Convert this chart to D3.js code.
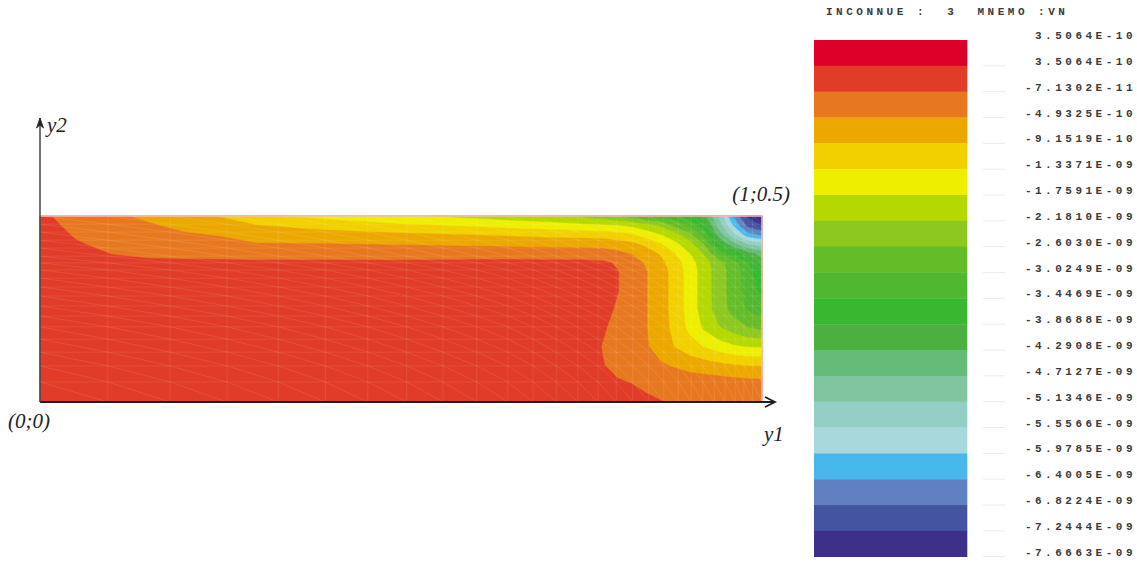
<!DOCTYPE html>
<html lang="fr">
<head>
<meta charset="UTF-8">
<title>INCONNUE 3 - VN</title>
<script src="https://cdnjs.cloudflare.com/ajax/libs/d3/7.8.5/d3.min.js"></script>
<style>
  body { margin: 0; background: #fff; }
  svg { display: block; }
  .leg { font-family: "Liberation Mono", monospace; font-size: 11px; font-weight: bold; letter-spacing: 3.5px; fill: #3a3a3a; white-space: pre; }
  .ax { font-family: "Liberation Serif", serif; font-style: italic; font-size: 21px; fill: #222; }
</style>
</head>
<body>
<svg id="chart" width="1137" height="562"></svg>
<script>
// legend: 21 level labels (top to bottom) and the 20 colour bands between them
var levelLabels = ["3.5064E-10", "3.5064E-10", "-7.1302E-11", "-4.9325E-10", "-9.1519E-10",
  "-1.3371E-09", "-1.7591E-09", "-2.1810E-09", "-2.6030E-09", "-3.0249E-09", "-3.4469E-09",
  "-3.8688E-09", "-4.2908E-09", "-4.7127E-09", "-5.1346E-09", "-5.5566E-09", "-5.9785E-09",
  "-6.4005E-09", "-6.8224E-09", "-7.2444E-09", "-7.6663E-09"];
var bandColors = ["#dc0028", "#e03c28", "#e87820", "#eca800", "#f2d000", "#eeee00", "#b4d800",
  "#8cc820", "#64bc28", "#50b830", "#38b830", "#4cb040", "#64bc78", "#80c4a0", "#94cec4",
  "#a8d8dc", "#48b8ec", "#6080c0", "#4454a0", "#3c3088"];
var header = "INCONNUE :  3  MNEMO :VN";

// sample grid of the field (y1 columns, y2 rows from top to bottom)
var gridY1 = [0, 0.02, 0.05, 0.1, 0.15, 0.2, 0.25, 0.3, 0.4, 0.5, 0.6, 0.65, 0.7, 0.75,
  0.78, 0.8, 0.82, 0.84, 0.86, 0.88, 0.9, 0.92, 0.94, 0.96, 0.98, 1];
var gridY2 = [0.5, 0.475, 0.45, 0.425, 0.4, 0.375, 0.35, 0.3, 0.25, 0.2, 0.15, 0.1, 0.075, 0.05, 0.025, 0];

// VN, as position on the colour scale (label i = level i)
var vnLevel = [
  [1.6, 2.05, 2.6, 2.85, 3.15, 3.55, 4.05, 4.8, 5.3, 5.8, 6.25, 6.5, 6.75, 7.1, 7.55, 7.9, 8.35, 8.9, 9.35, 9.8, 10.55, 11.7, 14.0, 17.0, 19.1, 19.9],
  [1.55, 1.85, 2.35, 2.65, 2.9, 3.2, 3.5, 3.95, 4.4, 4.8, 5.1, 5.3, 5.5, 5.75, 5.85, 5.95, 6.15, 6.7, 7.1, 8.2, 9.1, 10.6, 13.4, 16.0, 18.2, 19.0],
  [1.5, 1.7, 2.1, 2.45, 2.7, 2.9, 3.05, 3.35, 3.55, 3.75, 4.0, 4.1, 4.25, 4.35, 4.4, 4.6, 4.9, 5.4, 5.95, 6.65, 7.7, 9.3, 12.4, 14.6, 16.6, 17.2],
  [1.5, 1.6, 1.9, 2.25, 2.45, 2.6, 2.7, 2.95, 2.95, 3.05, 3.15, 3.2, 3.25, 3.3, 3.35, 3.5, 3.75, 4.2, 4.95, 5.75, 6.6, 8.0, 11.0, 12.6, 14.0, 14.6],
  [1.45, 1.55, 1.75, 2.02, 2.15, 2.2, 2.25, 2.3, 2.3, 2.35, 2.35, 2.4, 2.45, 2.45, 2.55, 2.75, 3.05, 3.55, 4.1, 5.0, 6.0, 7.1, 9.0, 10.5, 11.6, 12.4],
  [1.45, 1.5, 1.65, 1.8, 1.85, 1.85, 1.85, 1.85, 1.85, 1.85, 1.8, 1.75, 1.75, 1.75, 1.85, 2.1, 2.6, 3.1, 3.75, 4.55, 5.55, 6.55, 7.6, 8.6, 9.8, 11.6],
  [1.4, 1.45, 1.55, 1.6, 1.6, 1.6, 1.6, 1.6, 1.6, 1.6, 1.6, 1.55, 1.55, 1.5, 1.65, 1.95, 2.45, 2.95, 3.6, 4.35, 5.45, 6.45, 7.5, 8.4, 9.4, 11.1],
  [1.4, 1.4, 1.45, 1.45, 1.45, 1.45, 1.45, 1.45, 1.45, 1.45, 1.45, 1.45, 1.45, 1.45, 1.65, 1.95, 2.45, 2.95, 3.6, 4.35, 5.45, 6.45, 7.5, 8.4, 9.35, 10.3],
  [1.4, 1.4, 1.45, 1.45, 1.45, 1.45, 1.45, 1.45, 1.45, 1.45, 1.45, 1.45, 1.45, 1.45, 1.7, 2.1, 2.5, 2.95, 3.6, 4.35, 5.45, 6.45, 7.45, 8.35, 9.1, 9.5],
  [1.4, 1.4, 1.45, 1.45, 1.45, 1.45, 1.45, 1.45, 1.45, 1.45, 1.45, 1.45, 1.45, 1.5, 1.9, 2.25, 2.6, 2.95, 3.55, 4.3, 5.25, 6.15, 6.9, 7.45, 7.95, 8.2],
  [1.4, 1.4, 1.45, 1.45, 1.45, 1.45, 1.45, 1.45, 1.45, 1.45, 1.45, 1.45, 1.45, 1.6, 2.03, 2.3, 2.6, 2.9, 3.4, 4.05, 4.6, 5.05, 5.5, 5.85, 6.05, 6.1],
  [1.4, 1.4, 1.45, 1.45, 1.45, 1.45, 1.45, 1.45, 1.45, 1.45, 1.45, 1.45, 1.45, 1.6, 1.97, 2.2, 2.45, 2.7, 2.9, 3.1, 3.35, 3.55, 3.75, 3.95, 4.05, 4.1],
  [1.4, 1.4, 1.45, 1.45, 1.45, 1.45, 1.45, 1.45, 1.45, 1.45, 1.45, 1.45, 1.45, 1.65, 1.85, 2.05, 2.25, 2.45, 2.6, 2.75, 2.88, 2.98, 3.05, 3.12, 3.17, 3.2],
  [1.4, 1.4, 1.45, 1.45, 1.45, 1.45, 1.45, 1.45, 1.45, 1.45, 1.45, 1.45, 1.45, 1.7, 1.8, 1.92, 2.0, 2.15, 2.3, 2.45, 2.55, 2.62, 2.68, 2.72, 2.76, 2.8],
  [1.4, 1.4, 1.45, 1.45, 1.45, 1.45, 1.45, 1.45, 1.45, 1.45, 1.45, 1.45, 1.45, 1.75, 1.78, 1.85, 1.92, 2.0, 2.1, 2.2, 2.3, 2.35, 2.4, 2.43, 2.46, 2.5],
  [1.4, 1.4, 1.45, 1.45, 1.45, 1.45, 1.45, 1.45, 1.45, 1.45, 1.45, 1.45, 1.45, 1.75, 1.78, 1.82, 1.87, 1.92, 1.97, 2.03, 2.1, 2.15, 2.2, 2.22, 2.25, 2.3]
];

// finite element mesh lines seen on the plot
var meshY1 = [0, 0.094, 0.18, 0.259, 0.33, 0.395, 0.454, 0.508, 0.558, 0.605, 0.648, 0.683, 0.715,
  0.745, 0.773, 0.798, 0.821, 0.843, 0.864, 0.884, 0.902, 0.918, 0.934, 0.949, 0.963, 0.975, 0.987, 1];
var meshY2 = [0, 0.054, 0.097, 0.134, 0.169, 0.202, 0.231, 0.258, 0.285, 0.309, 0.333, 0.355,
  0.374, 0.392, 0.414, 0.435, 0.457, 0.478, 0.5];

var svg = d3.select("#chart");

var x = d3.scaleLinear().domain([0, 1]).range([40, 762]);
var y = d3.scaleLinear().domain([0, 0.5]).range([402, 216]);

// grid index -> y1 / y2
var nx = gridY1.length, ny = gridY2.length;
var colY1 = d3.scaleLinear().domain(d3.range(nx)).range(gridY1).clamp(true);
var rowY2 = d3.scaleLinear().domain(d3.range(ny)).range(gridY2).clamp(true);

var proj = d3.geoTransform({
  point: function(px, py) {
    this.stream.point(x(colY1(px - 0.5)), y(rowY2(py - 0.5)));
  }
});
var path = d3.geoPath(proj);

var bands = d3.contours()
  .size([nx, ny])
  .thresholds(d3.range(bandColors.length))(vnLevel.flat());

svg.append("g").selectAll("path")
  .data(bands)
  .enter().append("path")
  .attr("d", path)
  .attr("fill", function(d) { return bandColors[d.value]; })
  .attr("stroke", function(d) { return bandColors[d.value]; })
  .attr("stroke-width", 0.5);

// mesh overlay
var mesh = svg.append("g")
  .attr("stroke", "#fff")
  .attr("stroke-opacity", 0.14)
  .attr("stroke-width", 0.7);
mesh.selectAll("line.v").data(meshY1).enter().append("line")
  .attr("x1", function(d) { return x(d); }).attr("x2", function(d) { return x(d); })
  .attr("y1", y(0)).attr("y2", y(0.5));
mesh.selectAll("line.h").data(meshY2).enter().append("line")
  .attr("y1", function(d) { return y(d); }).attr("y2", function(d) { return y(d); })
  .attr("x1", x(0)).attr("x2", x(1));
var cells = [];
for (var i = 0; i < meshY1.length - 1; i++) {
  for (var j = 0; j < meshY2.length - 1; j++) {
    cells.push([meshY1[i], meshY2[j + 1], meshY1[i + 1], meshY2[j]]);
  }
}
mesh.selectAll("line.d").data(cells).enter().append("line")
  .attr("x1", function(d) { return x(d[0]); }).attr("y1", function(d) { return y(d[1]); })
  .attr("x2", function(d) { return x(d[2]); }).attr("y2", function(d) { return y(d[3]); });

// pink border on top and right
svg.append("path")
  .attr("d", "M" + x(0) + "," + y(0.5) + "H" + x(1) + "V" + y(0))
  .attr("fill", "none")
  .attr("stroke", "#f4bcbc")
  .attr("stroke-width", 1.5);

// axes with arrows
var axTop = y(0.5) - 98, axRight = x(1) + 13;
svg.append("path")
  .attr("d", "M" + x(0) + "," + y(0) + "H" + axRight)
  .attr("stroke", "#1e1e1e").attr("stroke-width", 2).attr("fill", "none");
svg.append("path")
  .attr("d", "M" + (axRight - 10) + "," + (y(0) - 5) + "L" + axRight + "," + y(0) + "L" + (axRight - 10) + "," + (y(0) + 5))
  .attr("stroke", "#1e1e1e").attr("stroke-width", 1.8).attr("fill", "none");
svg.append("path")
  .attr("d", "M" + x(0) + "," + y(0) + "V" + axTop)
  .attr("stroke", "#444").attr("stroke-width", 1.5).attr("fill", "none");
svg.append("path")
  .attr("d", "M" + (x(0) - 3.5) + "," + (axTop + 10) + "L" + x(0) + "," + axTop + "L" + (x(0) + 3.5) + "," + (axTop + 10) + "L" + x(0) + "," + (axTop + 7) + "Z")
  .attr("fill", "#222").attr("stroke", "#222").attr("stroke-width", 0.8);

svg.append("text").attr("class", "ax").attr("x", x(0) + 7).attr("y", axTop + 14).text("y2");
svg.append("text").attr("class", "ax").attr("x", axRight - 11).attr("y", y(0) + 39).text("y1");
svg.append("text").attr("class", "ax").attr("x", x(0) - 32).attr("y", y(0) + 26).text("(0;0)");
svg.append("text").attr("class", "ax").attr("x", x(1) + 28).attr("y", y(0.5) - 15)
  .attr("text-anchor", "end").text("(1;0.5)");

// legend
var legY = d3.scaleLinear().domain([0, bandColors.length]).range([40, 556.7]);
var leg = svg.append("g");
leg.selectAll("rect").data(bandColors).enter().append("rect")
  .attr("x", 814).attr("width", 153.3)
  .attr("y", function(d, i) { return legY(i); })
  .attr("height", function(d, i) { return legY(i + 1) - legY(i) + 0.3; })
  .attr("fill", function(d) { return d; });
leg.selectAll("line").data(levelLabels.slice(1)).enter().append("line")
  .attr("x1", 983).attr("x2", 1005)
  .attr("y1", function(d, i) { return legY(i + 1); })
  .attr("y2", function(d, i) { return legY(i + 1); })
  .attr("stroke", "#ececec").attr("stroke-width", 1);
leg.selectAll("text.lab").data(levelLabels).enter().append("text")
  .attr("class", "leg lab")
  .attr("x", 1136)
  .attr("y", function(d, i) { return legY(i) - 1; })
  .attr("text-anchor", "end")
  .text(function(d) { return d; });
svg.append("text").attr("class", "leg").attr("x", 826).attr("y", 15)
  .attr("xml:space", "preserve").text(header);
</script>
</body>
</html>
